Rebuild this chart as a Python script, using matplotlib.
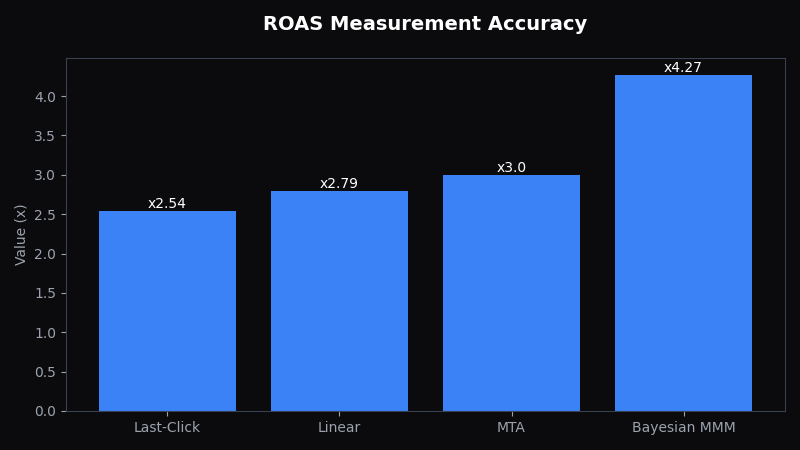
import matplotlib
matplotlib.use("Agg")
import matplotlib.pyplot as plt

categories = ["Last-Click", "Linear", "MTA", "Bayesian MMM"]
values = [2.54, 2.79, 3.0, 4.27]
labels = ["x2.54", "x2.79", "x3.0", "x4.27"]

bg = "#0b0b0d"
fig, ax = plt.subplots(figsize=(8, 4.5), dpi=100)
fig.patch.set_facecolor(bg)
ax.set_facecolor(bg)
fig.subplots_adjust(left=0.0825, right=0.98125, top=0.871, bottom=0.0867)

bars = ax.bar(categories, values, color="#3b82f6", width=0.8)
for b, lab in zip(bars, labels):
    ax.text(b.get_x() + b.get_width() / 2, b.get_height(), lab,
            ha="center", va="bottom", color="white", fontsize=10)

ax.set_ylim(0, max(values) * 1.05)
ax.set_ylabel("Value (x)", color="#9ca3af", fontsize=10)
ax.set_title("ROAS Measurement Accuracy", color="white", fontsize=14,
             fontweight="bold", pad=20)
ax.tick_params(colors="#9ca3af", labelsize=10)
for s in ax.spines.values():
    s.set_color("#374151")

fig.savefig("out.png", facecolor=bg)
